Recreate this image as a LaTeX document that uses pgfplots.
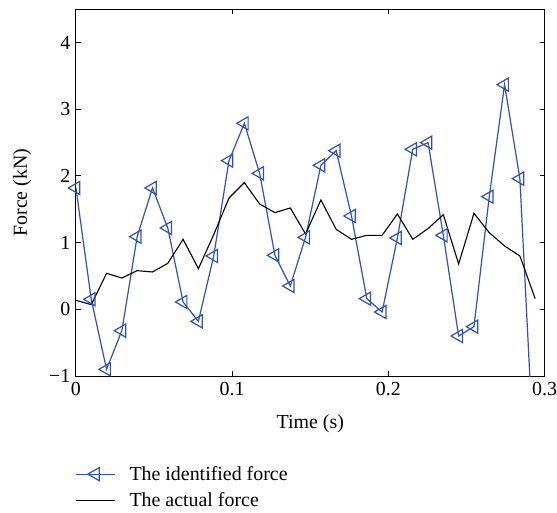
\documentclass[border=0pt]{standalone}
\usepackage{fontspec}
\setmainfont{Liberation Serif}
\usepackage{pgfplots}
\pgfplotsset{compat=1.18}
\usepackage{pgfplotstable}
\definecolor{idblue}{RGB}{48,80,178}
\pgfplotstableread{
x y
0.0000 1.82
0.0098 0.15
0.0196 -0.90
0.0294 -0.32
0.0392 1.09
0.0490 1.82
0.0588 1.22
0.0686 0.11
0.0784 -0.18
0.0882 0.80
0.0980 2.23
0.1078 2.79
0.1176 2.04
0.1274 0.81
0.1372 0.35
0.1470 1.08
0.1568 2.16
0.1666 2.38
0.1764 1.40
0.1862 0.16
0.1960 -0.04
0.2058 1.07
0.2156 2.40
0.2254 2.50
0.2352 1.11
0.2450 -0.40
0.2548 -0.26
0.2646 1.69
0.2744 3.37
0.2842 1.96
0.2940 -2.60
}\identified
\pgfplotstableread{
x y
0.0000 0.135
0.0098 0.07
0.0196 0.54
0.0294 0.47
0.0392 0.58
0.0490 0.56
0.0588 0.69
0.0686 1.05
0.0784 0.61
0.0882 1.12
0.0980 1.67
0.1078 1.90
0.1176 1.58
0.1274 1.45
0.1372 1.52
0.1470 1.13
0.1568 1.64
0.1666 1.20
0.1764 1.05
0.1862 1.11
0.1960 1.11
0.2058 1.43
0.2156 1.05
0.2254 1.21
0.2352 1.42
0.2450 0.68
0.2548 1.44
0.2646 1.15
0.2744 0.95
0.2842 0.80
0.2940 0.16
}\actual
\begin{document}
\begin{tikzpicture}[font=\fontsize{20}{24}\selectfont]
\path (-76bp,-134.3bp) rectangle (481bp,376.3bp);
\begin{axis}[
  at={(0,0)}, anchor=south west,
  scale only axis, width=469bp, height=367bp,
  xmin=0, xmax=0.3, ymin=-1, ymax=4.5,
  xtick={0,0.1,0.2,0.3}, xticklabels={0,0.1,0.2,0.3},
  ytick={-1,0,1,2,3,4}, yticklabels={−1,0,1,2,3,4},
  tick pos=both, xticklabel pos=lower, yticklabel pos=left,
  tick align=inside, major tick length=5bp,
  axis line style={line width=1bp, black},
  every tick/.style={line width=1bp, black},
  yticklabel style={xshift=-2bp},
  xticklabel style={yshift=-3bp, inner xsep=0pt},
  xlabel={Time (s)}, ylabel={Force (kN)},
  xlabel style={at={(axis description cs:0.5,-0.13)}, anchor=center},
  ylabel style={at={(axis description cs:-0.115,0.5)}, anchor=center},
  legend style={at={(axis description cs:-0.008,-0.235)}, anchor=north west,
    draw=none, fill=none, row sep=7bp},
  legend cell align=left,
  legend image code/.code={%
    \draw[mark repeat=2,mark phase=2,#1] plot coordinates {(0bp,0bp) (19.5bp,0bp) (39bp,0bp)};
    \path (51bp,0bp);},
]
\addplot[idblue, line width=1.2bp, mark=triangle, mark size=7.6bp,
  mark options={rotate=90, solid, fill=none, line width=1.2bp}] table[x=x,y=y] {\identified};
\addlegendentry{The identified force}
\addplot[black, line width=1.1bp] table[x=x,y=y] {\actual};
\addlegendentry{The actual force}
\end{axis}
\end{tikzpicture}
\end{document}
